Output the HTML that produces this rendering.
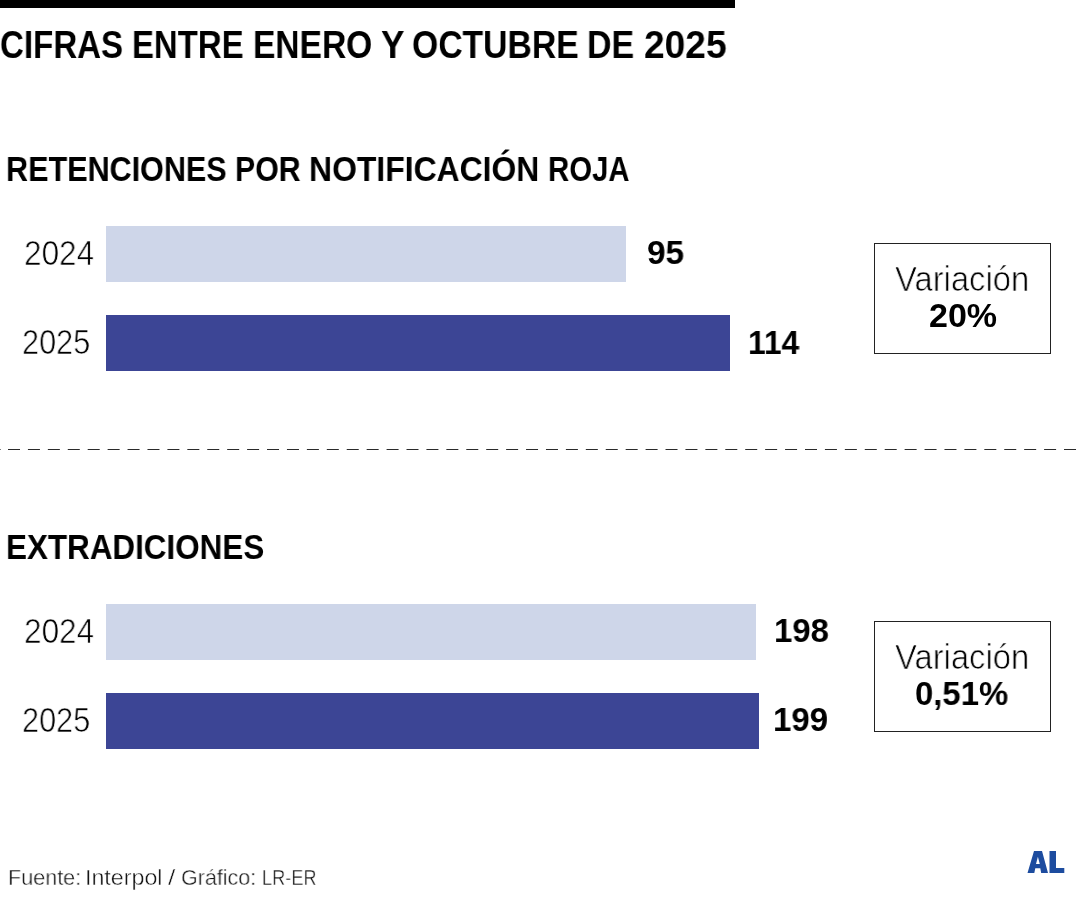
<!DOCTYPE html>
<html lang="es">
<head>
<meta charset="utf-8">
<title>Cifras entre enero y octubre de 2025</title>
<style>
  html, body { margin: 0; padding: 0; background: #fff; }
  body { width: 1080px; height: 900px; position: relative; overflow: hidden;
         font-family: "Liberation Sans", sans-serif; color: #000; }
  .t { position: absolute; white-space: nowrap; line-height: 1; transform-origin: 0 0; will-change: transform; }
  .b { font-weight: 700; color: #000; }
  .l { font-weight: 400; color: #000; -webkit-text-stroke: 0.7px #fff; paint-order: normal; }
  .bar { position: absolute; left: 106px; height: 56px; }
  .light { background: #ced6e9; }
  .dark { background: #3c4595; }
  .box { position: absolute; left: 874px; width: 175px; height: 109px; border: 1px solid #222; }
</style>
</head>
<body>
  <div style="position:absolute;left:0;top:0;width:735px;height:8px;background:#000;"></div>

  <div class="t b" style="left:-0.46px;top:26.41px;font-size:38.74px;transform:scaleX(0.8540);">CIFRAS</div>
  <div class="t b" style="left:131.96px;top:26.41px;font-size:38.74px;transform:scaleX(0.8497);">ENTRE</div>
  <div class="t b" style="left:252.55px;top:26.41px;font-size:38.74px;transform:scaleX(0.8659);">ENERO</div>
  <div class="t b" style="left:380.50px;top:26.41px;font-size:38.74px;transform:scaleX(0.9047);">Y</div>
  <div class="t b" style="left:411.84px;top:26.41px;font-size:38.74px;transform:scaleX(0.8702);">OCTUBRE</div>
  <div class="t b" style="left:587.45px;top:26.41px;font-size:38.74px;transform:scaleX(0.8750);">DE</div>
  <div class="t b" style="left:643.81px;top:26.41px;font-size:38.74px;transform:scaleX(0.9584);">2025</div>

  <!-- Retenciones -->
  <div class="t b" style="left:6.33px;top:152.46px;font-size:34.84px;transform:scaleX(0.8775);">RETENCIONES</div>
  <div class="t b" style="left:235.23px;top:152.46px;font-size:34.84px;transform:scaleX(0.8699);">POR</div>
  <div class="t b" style="left:308.80px;top:152.46px;font-size:34.84px;transform:scaleX(0.9159);">NOTIFICACIÓN</div>
  <div class="t b" style="left:547.60px;top:152.46px;font-size:34.84px;transform:scaleX(0.8434);">ROJA</div>
  <div class="t l" style="left:23.85px;top:236.00px;font-size:34.50px;transform:scaleX(0.9150);">2024</div>
  <div class="bar light" style="top:226px;width:520px;"></div>
  <div class="t b" style="left:646.88px;top:236.00px;font-size:33.80px;transform:scaleX(0.9867);">95</div>
  <div class="t l" style="left:22.45px;top:325.00px;font-size:34.50px;transform:scaleX(0.8900);">2025</div>
  <div class="bar dark" style="top:315px;width:624px;"></div>
  <div class="t b" style="left:747.88px;top:325.50px;font-size:33.80px;transform:scaleX(0.9369);">114</div>
  <div class="box" style="top:243px;"></div>
  <div class="t l" style="left:894.90px;top:262.20px;font-size:34.57px;transform:scaleX(0.9485);">Variación</div>
  <div class="t b" style="left:928.59px;top:299.20px;font-size:33.40px;transform:scaleX(1.0189);">20%</div>

  <svg style="position:absolute;left:0;top:0;" width="1080" height="900">
    <line x1="8" y1="449.5" x2="1080" y2="449.5" stroke="#2a2a2a" stroke-width="1.2" stroke-dasharray="12 7.925"/>
    <line x1="0" y1="449.5" x2="0.6" y2="449.5" stroke="#2a2a2a" stroke-width="1.2"/>
  </svg>

  <!-- Extradiciones -->
  <div class="t b" style="left:5.97px;top:530.37px;font-size:34.84px;transform:scaleX(0.9015);">EXTRADICIONES</div>
  <div class="t l" style="left:23.85px;top:614.00px;font-size:34.50px;transform:scaleX(0.9150);">2024</div>
  <div class="bar light" style="top:604px;width:650px;"></div>
  <div class="t b" style="left:774.22px;top:614.00px;font-size:33.80px;transform:scaleX(0.9750);">198</div>
  <div class="t l" style="left:22.45px;top:703.00px;font-size:34.50px;transform:scaleX(0.8900);">2025</div>
  <div class="bar dark" style="top:693px;width:653px;"></div>
  <div class="t b" style="left:772.50px;top:703.00px;font-size:33.80px;transform:scaleX(0.9776);">199</div>
  <div class="box" style="top:621px;"></div>
  <div class="t l" style="left:894.90px;top:640.20px;font-size:34.57px;transform:scaleX(0.9485);">Variación</div>
  <div class="t b" style="left:915.40px;top:677.20px;font-size:33.40px;transform:scaleX(0.9841);">0,51%</div>

  <!-- Footer -->
  <div class="t l" style="left:8.05px;top:865.64px;font-size:22.90px;transform:scaleX(0.9421);color:#151515;-webkit-text-stroke:0.4px #fff;">Fuente:</div>
  <div class="t l" style="left:85.09px;top:865.64px;font-size:22.90px;transform:scaleX(1.0144);color:#151515;-webkit-text-stroke:0.4px #fff;">Interpol</div>
  <div class="t l" style="left:167.86px;top:865.64px;font-size:22.90px;transform:scaleX(1.1500);color:#151515;-webkit-text-stroke:0.4px #fff;">/</div>
  <div class="t l" style="left:181.35px;top:865.64px;font-size:22.90px;transform:scaleX(0.9387);color:#151515;-webkit-text-stroke:0.4px #fff;">Gráfico:</div>
  <div class="t l" style="left:261.88px;top:865.64px;font-size:22.90px;transform:scaleX(0.7926);color:#151515;-webkit-text-stroke:0.4px #fff;">LR-ER</div>
  <svg style="position:absolute;left:0;top:0;" width="1080" height="900" aria-label="AL">
    <path fill="#1d4c9f" fill-rule="evenodd" d="M1027.5,873 L1034,851 L1042,851 L1048,873 L1041.2,873 L1040.3,868.2 L1035.3,868.2 L1034.3,873 Z M1036,864 L1037.9,856.8 L1039.8,864 Z"/>
    <path fill="#1d4c9f" d="M1049.5,851 L1056,851 L1056,868 L1064.3,868 L1064.3,873 L1049.5,873 Z"/>
  </svg>
</body>
</html>
